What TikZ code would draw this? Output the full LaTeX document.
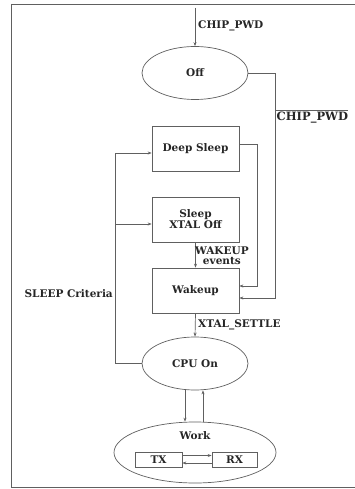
\documentclass[tikz,border=0pt]{standalone}
\usepackage{fontspec}
\setmainfont{DejaVu Serif}
\usetikzlibrary{shapes.geometric,arrows.meta}
\definecolor{ln}{HTML}{606060}
\definecolor{tx}{HTML}{262626}
\begin{document}
\begin{tikzpicture}[x=1pt,y=-1pt,
  every node/.style={font=\fontsize{10.5}{12}\selectfont\bfseries, text=tx},
  lin/.style={draw=ln, line width=0.7pt},
  arr/.style={lin, -{Stealth[length=4pt,width=3pt]}},
  oval/.style={lin, ellipse, inner sep=0pt},
  stbox/.style={lin, rectangle, minimum width=87pt, minimum height=45pt, inner sep=0pt, align=center},
  small/.style={lin, rectangle, minimum height=15pt, inner sep=0pt},
  lbl/.style={inner sep=1pt}]
\useasboundingbox (0,0) rectangle (354,489);
\fill[white] (0,0) rectangle (354,489);
\draw[lin] (11,4) -- (380,4);
\draw[lin] (11,4) -- (11,487) -- (380,487);

\node[oval, minimum width=106pt, minimum height=53pt] (off) at (195,73) {Off};
\node[stbox] (deep) at (195.5,148.5) {Deep Sleep};
\node[stbox] (sleep) at (195.5,219.5) {Sleep\\[-1pt]XTAL Off};
\node[stbox] (wake) at (195.5,290.5) {Wakeup};
\node[oval, minimum width=106pt, minimum height=53pt] (cpu) at (195,363.5) {CPU On};
\node[oval, minimum width=162pt, minimum height=61pt] (work) at (195,452.5) {};
\node[lbl] (worklbl) at (195,436) {Work};
\node[small, minimum width=47pt] (txb) at (158.5,459.5) {TX};
\node[small, minimum width=45pt] (rxb) at (234.5,459.5) {RX};

% CHIP_PWD entry
\coordinate (top) at (195,8);
\draw[arr] (top) -- (off.north);
\node[lbl, anchor=west] (l1) at (197,26) {CHIP\_PWD};

% Off -> Wakeup
\coordinate (c1) at (275,298);
\draw[arr] (off.east) -| (c1) -- (wake.east |- c1);
\node[anchor=west, inner sep=0pt, font=\fontsize{11.5}{13}\selectfont\bfseries] (l2) at (276.5,118) {CHIP\_PWD};
\draw[lin] ([xshift=-1.5pt,yshift=1.5pt]l2.north west) -- ([yshift=1.5pt]l2.north east);

% Deep sleep -> Wakeup
\coordinate (d1) at (239,144);
\coordinate (d2) at (257,286);
\draw[arr] (d1) -| (d2) -- (wake.east |- d2);

% Sleep -> Wakeup
\draw[arr] (sleep.south) -- (wake.north);
\node[lbl, anchor=west, align=center] (l3) at (194,255.5) {WAKEUP\\[-2pt]events};

% Wakeup -> CPU
\draw[arr] (wake.south) -- (cpu.north);
\node[lbl, anchor=west] (l4) at (197,325) {XTAL\_SETTLE};

% CPU -> sleep states
\coordinate (s1) at (115,153);
\coordinate (s2) at (115,224);
\draw[arr] (cpu.west) -| (s1) -- (deep.west |- s1);
\draw[arr] (s2) -- (sleep.west |- s2);
\node[lbl, anchor=east] (l5) at (114,294) {SLEEP Criteria};

% CPU <-> Work
\draw[arr] ([xshift=-10pt]cpu.south) -- ([xshift=-10pt]cpu.south |- work.north);
\draw[arr] ([xshift=8pt]cpu.south |- work.north) -- ([xshift=8pt]cpu.south);

% TX <-> RX
\draw[arr] ([yshift=4pt]txb.east) -- ([yshift=4pt]rxb.west);
\draw[arr] ([yshift=-3.5pt]rxb.west) -- ([yshift=-3.5pt]txb.east);
\end{tikzpicture}
\end{document}
